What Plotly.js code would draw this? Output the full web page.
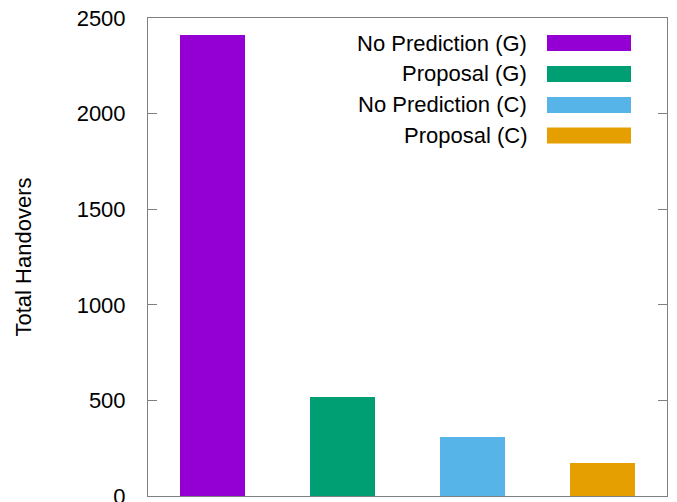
<!DOCTYPE html>
<html>
<head>
<meta charset="utf-8">
<script src="https://cdn.plot.ly/plotly-3.0.1.min.js"></script>
<style>html,body{margin:0;padding:0;background:#fff;}#chart{width:677px;height:502px;}</style>
</head>
<body>
<div id="chart"></div>
<script>
// Data
const seriesNames = ["No Prediction (G)", "Proposal (G)", "No Prediction (C)", "Proposal (C)"];
const seriesValues = [2410, 520, 310, 175];
const seriesColors = ["#9400D3", "#009E73", "#56B4E9", "#E69F00"];
const yTickValues = [0, 500, 1000, 1500, 2000, 2500];
const yTitle = "Total Handovers";

const W = 677, H = 502;
const L = 148, R = 10, T = 18, B = 6;
const plotW = W - L - R, plotH = H - T - B;
const px2x = x => (x - L) / plotW;
const px2y = y => (H - B - y) / plotH;

const traces = seriesNames.map((name, i) => ({
  type: 'bar',
  name: name,
  x: [i],
  y: [seriesValues[i]],
  width: 0.5,
  marker: {color: seriesColors[i], line: {width: 0}},
  showlegend: false,
  hoverinfo: 'skip'
}));

// Custom legend (gnuplot style: text right, swatch on right)
const legendRowY = [43, 74, 105, 135.5];
const shapes = [];
const annotations = [];
seriesNames.forEach((name, i) => {
  const cy = legendRowY[i];
  shapes.push({
    type: 'rect', xref: 'paper', yref: 'paper',
    x0: px2x(547), x1: px2x(631), y0: px2y(cy + 8), y1: px2y(cy - 8),
    fillcolor: seriesColors[i], line: {width: 0}
  });
  annotations.push({
    xref: 'paper', yref: 'paper', x: px2x(529), y: px2y(cy),
    xanchor: 'right', yanchor: 'middle', showarrow: false,
    text: name, font: {size: 22, color: '#000', family: 'Liberation Sans, Arial, sans-serif'}
  });
});

const layout = {
  width: W, height: H,
  margin: {l: L, r: R, t: T, b: B, pad: 0},
  paper_bgcolor: '#fff', plot_bgcolor: '#fff',
  font: {family: 'Liberation Sans, Arial, sans-serif', size: 22, color: '#000'},
  xaxis: {
    range: [-0.5, 3.5], showticklabels: false, ticks: '', showgrid: false, zeroline: false,
    showline: true, linecolor: '#808080', linewidth: 1, mirror: true, fixedrange: true
  },
  yaxis: {
    range: [0, 2500], tickvals: yTickValues, ticktext: yTickValues.map(String),
    ticks: 'inside', ticklen: 9, tickcolor: '#808080', tickwidth: 1,
    showgrid: false, zeroline: false, showline: true, linecolor: '#808080', linewidth: 1,
    mirror: 'ticks', ticklabelstandoff: 17, ticklabeloverflow: 'allow',
    tickfont: {size: 22, color: '#000'},
    title: {text: yTitle, font: {size: 22, color: '#000'}, standoff: 38},
    fixedrange: true
  },
  shapes: shapes,
  annotations: annotations,
  bargap: 0
};

Plotly.newPlot('chart', traces, layout, {displayModeBar: false, staticPlot: true});
</script>
</body>
</html>
